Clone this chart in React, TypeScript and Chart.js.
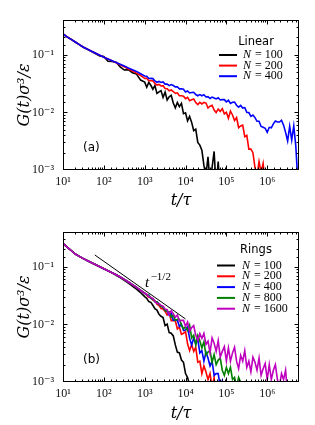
import React, { useEffect, useRef } from 'react';
import { Chart, registerables } from 'chart.js';

Chart.register(...registerables);

// shared time grid t/tau (log spaced)
const tGrid = [
  10, 12.59, 15.85, 19.95, 25.12, 31.62, 39.81, 50.12, 63.1, 79.43,
  100, 125.9, 158.5, 199.5, 251.2, 316.2, 398.1, 501.2, 631, 794.3,
  1000,
  1122, 1259, 1413, 1585, 1778, 1995, 2239, 2512, 2818, 3162, 3548, 3981, 4467, 5012, 5623, 6310, 7079, 7943, 8913,
  1e4, 1.122e4, 1.259e4, 1.413e4, 1.585e4, 1.778e4, 1.995e4, 2.239e4, 2.512e4, 2.818e4, 3.162e4, 3.548e4, 3.981e4, 4.467e4, 5.012e4, 5.623e4, 6.31e4, 7.079e4, 7.943e4, 8.913e4,
  1e5, 1.122e5, 1.259e5, 1.413e5, 1.585e5, 1.778e5, 1.995e5, 2.239e5, 2.512e5, 2.818e5, 3.162e5, 3.548e5, 3.981e5, 4.467e5, 5.012e5, 5.623e5, 6.31e5, 7.079e5, 7.943e5, 8.913e5,
  1e6, 1.122e6, 1.259e6, 1.413e6, 1.585e6, 1.778e6, 1.995e6, 2.239e6, 2.512e6, 2.818e6, 3.162e6, 3.548e6, 3.981e6, 4.467e6, 5.012e6, 5.623e6,
];

// (a) Linear chains
const linearN = ['100', '200', '400'];
const lin100 = [
  0.229, 0.204, 0.184, 0.166, 0.150, 0.135, 0.124, 0.113, 0.104, 0.0955,
  0.0933, 0.0769, 0.0764, 0.0741, 0.0615, 0.0542, 0.0552, 0.0485, 0.0461, 0.0363,
  0.0334,
  0.0273, 0.033, 0.0295, 0.0252, 0.0292, 0.0213, 0.0227, 0.0238, 0.0182, 0.0224, 0.0164, 0.0186, 0.0197, 0.0145, 0.012, 0.0148, 0.0126, 0.0143, 0.0095,
  0.0098, 0.0071, 0.0085, 0.0067, 0.0048, 0.0051, 0.003, 0.0027, 0.0022, 0.0012, 0.0008, 0.0017, 0.0006, 0.0011, 0.0021, 0.0005, 0.0014, 0.0004,
];
const lin200 = [
  0.229, 0.204, 0.184, 0.166, 0.150, 0.135, 0.124, 0.115, 0.106, 0.0977,
  0.0902, 0.0841, 0.0785, 0.0724, 0.0668, 0.0617, 0.0562, 0.0519, 0.0479, 0.0437,
  0.0389,
  0.0391, 0.0354, 0.0356, 0.0352, 0.0317, 0.0297, 0.0305, 0.0287, 0.029, 0.0259, 0.0257, 0.0236, 0.0244, 0.023, 0.0214, 0.0218, 0.0195, 0.0194, 0.0191,
  0.0173, 0.0182, 0.0159, 0.0165, 0.017, 0.0148, 0.0136, 0.0149, 0.014, 0.0149, 0.0145, 0.0119, 0.0128, 0.0133, 0.011, 0.0099, 0.0114, 0.0104, 0.0116, 0.0094,
  0.01, 0.0079, 0.0105, 0.009, 0.0072, 0.0081, 0.0054, 0.0058, 0.006, 0.0038, 0.004, 0.0023, 0.0023, 0.002, 0.0011, 0.0008, 0.0014, 0.0009, 0.0013, 0.0006,
  0.0004,
];
const lin400 = [
  0.229, 0.204, 0.184, 0.166, 0.150, 0.135, 0.124, 0.115, 0.106, 0.0977,
  0.0902, 0.0841, 0.0785, 0.0733, 0.0684, 0.0638, 0.0589, 0.0550, 0.0513, 0.0468,
  0.0427,
  0.0422, 0.0387, 0.0388, 0.0385, 0.0352, 0.0333, 0.0344, 0.033, 0.0337, 0.0309, 0.031, 0.0291, 0.0303, 0.0292, 0.0277, 0.0278, 0.0255, 0.0256, 0.0251,
  0.0226, 0.0235, 0.0217, 0.0221, 0.0223, 0.0204, 0.0194, 0.0203, 0.0194, 0.0202, 0.0185, 0.0187, 0.0174, 0.0184, 0.0178, 0.0171, 0.0179, 0.0164, 0.0166, 0.0166,
  0.0152, 0.0162, 0.0143, 0.0149, 0.0151, 0.0133, 0.0123, 0.0132, 0.0119, 0.0121, 0.01, 0.0099, 0.0085, 0.009, 0.0081, 0.007, 0.007, 0.0057, 0.0055, 0.0053,
  0.0045, 0.0055, 0.0054, 0.0063, 0.0071, 0.0068, 0.0068, 0.0073, 0.006, 0.0045, 0.0032, 0.0057, 0.0033, 0.0058, 0.0026, 0.00063,
];

// (b) Rings
const ringN = ['100', '200', '400', '800', '1600'];
const ring100 = [
  0.253, 0.219, 0.191, 0.166, 0.151, 0.138, 0.127, 0.117, 0.108, 0.1,
  0.0923, 0.0851, 0.0785, 0.0708, 0.0646, 0.0582, 0.0519, 0.0462, 0.0407, 0.0355,
  0.0302,
  0.0283, 0.0248, 0.0241, 0.0214, 0.0187, 0.0177, 0.015, 0.0138, 0.0131, 0.0095, 0.0101, 0.0072, 0.007, 0.0063, 0.0044, 0.0033, 0.0032, 0.0024, 0.0022,
  0.0014, 0.0012, 0.00088, 0.0005,
];
const ring200 = [
  0.253, 0.219, 0.191, 0.166, 0.151, 0.138, 0.127, 0.117, 0.108, 0.1,
  0.0923, 0.0851, 0.0785, 0.0724, 0.0661, 0.0603, 0.0543, 0.049, 0.0437, 0.0389,
  0.0347,
  0.0321, 0.0296, 0.0292, 0.0265, 0.0258, 0.0224, 0.0212, 0.0188, 0.0185, 0.0168, 0.0145, 0.0156, 0.0116, 0.0116, 0.0115, 0.0083, 0.009, 0.0067, 0.007,
  0.0075, 0.0046, 0.0035, 0.0045, 0.0034, 0.004, 0.0022, 0.0023, 0.0014, 0.0019, 0.0015, 0.0011, 0.0014, 0.00081, 0.0012, 0.0004,
];
const ring400 = [
  0.253, 0.219, 0.191, 0.166, 0.151, 0.138, 0.127, 0.117, 0.108, 0.1,
  0.0923, 0.0851, 0.0785, 0.0724, 0.0661, 0.0603, 0.0543, 0.049, 0.0437, 0.0389,
  0.0347,
  0.0326, 0.0321, 0.0282, 0.0274, 0.0248, 0.0247, 0.0224, 0.0205, 0.02, 0.0175,
  0.017, 0.0144, 0.0156, 0.0118, 0.0119, 0.0118, 0.0092, 0.01, 0.0078, 0.008,
  0.009, 0.0057, 0.0044, 0.0058, 0.0046, 0.0056, 0.0032, 0.0035, 0.0023, 0.0033, 0.0026, 0.0019, 0.0023, 0.0013, 0.0014, 0.0014, 0.00082, 0.00105, 0.00066, 0.0004,
];
const ring800 = [
  0.253, 0.219, 0.191, 0.166, 0.151, 0.138, 0.127, 0.117, 0.108, 0.1,
  0.0923, 0.0851, 0.0785, 0.0724, 0.0661, 0.0603, 0.0543, 0.049, 0.0437, 0.0389,
  0.0347,
  0.0326, 0.0321, 0.0282, 0.0274, 0.0248, 0.0247, 0.0224, 0.0205, 0.02, 0.0175, 0.0167, 0.0166, 0.0133, 0.0146, 0.0117, 0.0122, 0.0122, 0.0097, 0.0084,
  0.0091, 0.0078, 0.0097, 0.0058, 0.0065, 0.0044, 0.0064, 0.0052, 0.0039, 0.005, 0.0029, 0.0033, 0.0035, 0.0022, 0.003, 0.002, 0.0024, 0.0026, 0.0016, 0.0013,
  0.0018, 0.0014, 0.0018, 0.0011, 0.0012, 0.00084, 0.0012, 0.00099, 0.00074, 0.00095, 0.0005,
];
const ring1600 = [
  0.253, 0.219, 0.191, 0.166, 0.151, 0.138, 0.127, 0.117, 0.108, 0.1,
  0.0923, 0.0851, 0.0785, 0.0724, 0.0661, 0.0603, 0.0543, 0.049, 0.0437, 0.0389,
  0.0347,
  0.0335, 0.0301, 0.0291, 0.0282, 0.0252, 0.023, 0.023, 0.0213, 0.0207, 0.0184, 0.018, 0.0149, 0.0172, 0.0153, 0.0133, 0.0145, 0.0114, 0.0117, 0.0117,
  0.0092, 0.011, 0.0076, 0.0088, 0.0095, 0.0065, 0.0053, 0.0069, 0.0057, 0.007, 0.0045, 0.0051, 0.0032, 0.0058, 0.0047, 0.0034, 0.0052, 0.0027, 0.0034, 0.0041,
  0.0023, 0.0039, 0.0023, 0.0032, 0.004, 0.0023, 0.0017, 0.0029, 0.0023, 0.0035, 0.0018, 0.0023, 0.0015, 0.0027, 0.0022, 0.0016, 0.0026, 0.0013, 0.0017, 0.0021,
  0.0011, 0.002, 0.0011, 0.0016, 0.002, 0.0011, 0.00085, 0.0014, 0.0011, 0.0016, 0.0006,
];

// t^{-1/2} guide line
const guideT = [60, 10000];
const guideG = [0.16, 0.0124];

const X_MIN = 10;
const X_MAX = 6e6;
const Y_MIN = 1e-3;
const Y_MAX = 0.4;

const SUP: Record<string, string> = {
  '-': '\u207B', '0': '\u2070', '1': '\u00B9', '2': '\u00B2', '3': '\u00B3',
  '4': '\u2074', '5': '\u2075', '6': '\u2076', '7': '\u2077', '8': '\u2078', '9': '\u2079',
};
function isDecade(v: number) {
  const e = Math.log10(v);
  return Math.abs(e - Math.round(e)) < 1e-6;
}
function decadeLabel(v: number) {
  if (!isDecade(v)) return '';
  const r = Math.round(Math.log10(v));
  return '10' + String(r).split('').map((c) => SUP[c]).join('');
}

const SERIF = '"Liberation Serif", "DejaVu Serif", serif';
const MATH = '"DejaVu Serif", "Liberation Serif", serif';
const SANS = '"DejaVu Sans", "Liberation Sans", sans-serif';

interface Series { data: number[]; color: string; label: string }
interface PanelCfg {
  height: number;
  xAxisHeight: number;
  series: Series[];
  legendTitle: string;
  titleX: number;
  titleY: number;
  rowY0: number;
  rowDy: number;
  lineX0: number;
  lineX1: number;
  textX: number;
  panelLabel: string;
  panelLabelY: number;
  guide: boolean;
}

function makeDecor(cfg: PanelCfg) {
  return {
    id: 'decor',
    afterDraw(chart: any) {
      const { ctx, chartArea: a } = chart;
      const xs = chart.scales.x;
      const ys = chart.scales.y;
      ctx.save();
      ctx.strokeStyle = '#000';
      ctx.lineWidth = 1;
      ctx.beginPath();
      for (const t of xs.ticks) {
        const p = xs.getPixelForValue(t.value);
        if (p <= a.left + 1 || p >= a.right - 1) continue;
        const L = isDecade(t.value) ? 4.5 : 2.5;
        const px = Math.round(p) + 0.5;
        ctx.moveTo(px, a.bottom); ctx.lineTo(px, a.bottom - L);
        ctx.moveTo(px, a.top); ctx.lineTo(px, a.top + L);
      }
      for (const t of ys.ticks) {
        const p = ys.getPixelForValue(t.value);
        if (p <= a.top + 1 || p >= a.bottom - 1) continue;
        const L = isDecade(t.value) ? 4.5 : 2.5;
        const py = Math.round(p) + 0.5;
        ctx.moveTo(a.left, py); ctx.lineTo(a.left + L, py);
        ctx.moveTo(a.right, py); ctx.lineTo(a.right - L, py);
      }
      ctx.stroke();
      ctx.strokeRect(a.left + 0.5, a.top + 0.5, a.right - a.left - 1, a.bottom - a.top - 1);

      // legend
      ctx.fillStyle = '#000';
      ctx.textBaseline = 'middle';
      ctx.textAlign = 'center';
      ctx.font = `11.5px ${SANS}`;
      ctx.fillText(cfg.legendTitle, cfg.titleX, cfg.titleY);
      cfg.series.forEach((s, i) => {
        const y = cfg.rowY0 + i * cfg.rowDy;
        ctx.strokeStyle = s.color;
        ctx.lineWidth = 2;
        ctx.beginPath();
        ctx.moveTo(cfg.lineX0, y);
        ctx.lineTo(cfg.lineX1, y);
        ctx.stroke();
        ctx.textAlign = 'left';
        ctx.font = `italic 12px ${SERIF}`;
        ctx.fillText('N', cfg.textX, y);
        const wN = ctx.measureText('N').width;
        ctx.font = `12px ${SERIF}`;
        ctx.fillText(' = ' + s.label, cfg.textX + wN + 1, y);
      });

      // panel label
      ctx.textAlign = 'left';
      ctx.font = `12px ${SANS}`;
      ctx.fillText(cfg.panelLabel, 83, cfg.panelLabelY);

      if (cfg.guide) {
        ctx.textBaseline = 'alphabetic';
        ctx.font = `italic 15px ${SERIF}`;
        ctx.fillText('t', 145, 75);
        const wt = ctx.measureText('t').width;
        ctx.font = `11px ${SERIF}`;
        ctx.fillText('\u22121/2', 145 + wt + 1.5, 68);
      }
      ctx.restore();
    },
  };
}

function Panel({ cfg }: { cfg: PanelCfg }) {
  const ref = useRef<HTMLCanvasElement | null>(null);
  useEffect(() => {
    if (!ref.current) return;
    const n = cfg.series.length;
    const datasets: any[] = cfg.series.map((s, i) => ({
      label: 'N = ' + s.label,
      data: s.data.map((g, k) => ({ x: tGrid[k], y: g })),
      borderColor: s.color,
      backgroundColor: s.color,
      borderWidth: 1.6,
      pointRadius: 0,
      tension: 0,
      fill: false,
      order: n - i,
    }));
    if (cfg.guide) {
      datasets.push({
        label: 't^-1/2',
        data: guideT.map((t, k) => ({ x: t, y: guideG[k] })),
        borderColor: '#000',
        borderWidth: 1,
        pointRadius: 0,
        fill: false,
        order: 0,
      });
    }
    const chart = new Chart(ref.current, {
      type: 'line',
      data: { datasets },
      plugins: [makeDecor(cfg)],
      options: {
        animation: false,
        responsive: false,
        devicePixelRatio: 1,
        layout: { padding: { top: 20, right: 16, bottom: 0, left: 0 } },
        plugins: { legend: { display: false }, tooltip: { enabled: false } },
        scales: {
          x: {
            type: 'logarithmic',
            min: X_MIN,
            max: X_MAX,
            grid: { display: false, drawTicks: false },
            border: { display: false },
            afterFit: (s: any) => { s.height = cfg.xAxisHeight; },
            ticks: {
              autoSkip: false,
              maxRotation: 0,
              padding: 5,
              color: '#111',
              font: { family: SERIF, size: 12 },
              callback: (v: any) => decadeLabel(Number(v)),
            },
            title: {
              display: true,
              text: 't/\u03C4',
              color: '#000',
              font: { family: MATH, size: 16, style: 'italic' },
              padding: { top: 0, bottom: 2 },
            },
          },
          y: {
            type: 'logarithmic',
            min: Y_MIN,
            max: Y_MAX,
            grid: { display: false, drawTicks: false },
            border: { display: false },
            afterFit: (s: any) => { s.width = 63; },
            ticks: {
              autoSkip: false,
              padding: 9,
              color: '#111',
              font: { family: SERIF, size: 12 },
              callback: (v: any) => decadeLabel(Number(v)),
            },
            title: {
              display: true,
              text: 'G(t)\u03C3\u00B3/\u03B5',
              color: '#000',
              font: { family: MATH, size: 16, style: 'italic' },
              padding: { top: 15, bottom: 0 },
            },
          },
        },
      } as any,
    });
    return () => chart.destroy();
  }, [cfg]);
  return (
    <canvas
      ref={ref}
      width={315}
      height={cfg.height}
      style={{ display: 'block', width: 315, height: cfg.height }}
    />
  );
}

const topCfg: PanelCfg = {
  height: 212,
  xAxisHeight: 42,
  series: [
    { data: lin100, color: '#000000', label: linearN[0] },
    { data: lin200, color: '#ff0000', label: linearN[1] },
    { data: lin400, color: '#0000ff', label: linearN[2] },
  ],
  legendTitle: 'Linear',
  titleX: 256,
  titleY: 42,
  rowY0: 55,
  rowDy: 10.6,
  lineX0: 219,
  lineX1: 237,
  textX: 243,
  panelLabel: '(a)',
  panelLabelY: 148,
  guide: false,
};

const bottomCfg: PanelCfg = {
  height: 213,
  xAxisHeight: 43,
  series: [
    { data: ring100, color: '#000000', label: ringN[0] },
    { data: ring200, color: '#ff0000', label: ringN[1] },
    { data: ring400, color: '#0000ff', label: ringN[2] },
    { data: ring800, color: '#008000', label: ringN[3] },
    { data: ring1600, color: '#bf00bf', label: ringN[4] },
  ],
  legendTitle: 'Rings',
  titleX: 256,
  titleY: 38,
  rowY0: 53.5,
  rowDy: 10.8,
  lineX0: 217,
  lineX1: 235,
  textX: 242,
  panelLabel: '(b)',
  panelLabelY: 148,
  guide: true,
};

export default function App() {
  return (
    <div style={{ position: 'absolute', left: 0, top: 0, width: 315, height: 425, background: '#fff' }}>
      <Panel cfg={topCfg} />
      <Panel cfg={bottomCfg} />
    </div>
  );
}
